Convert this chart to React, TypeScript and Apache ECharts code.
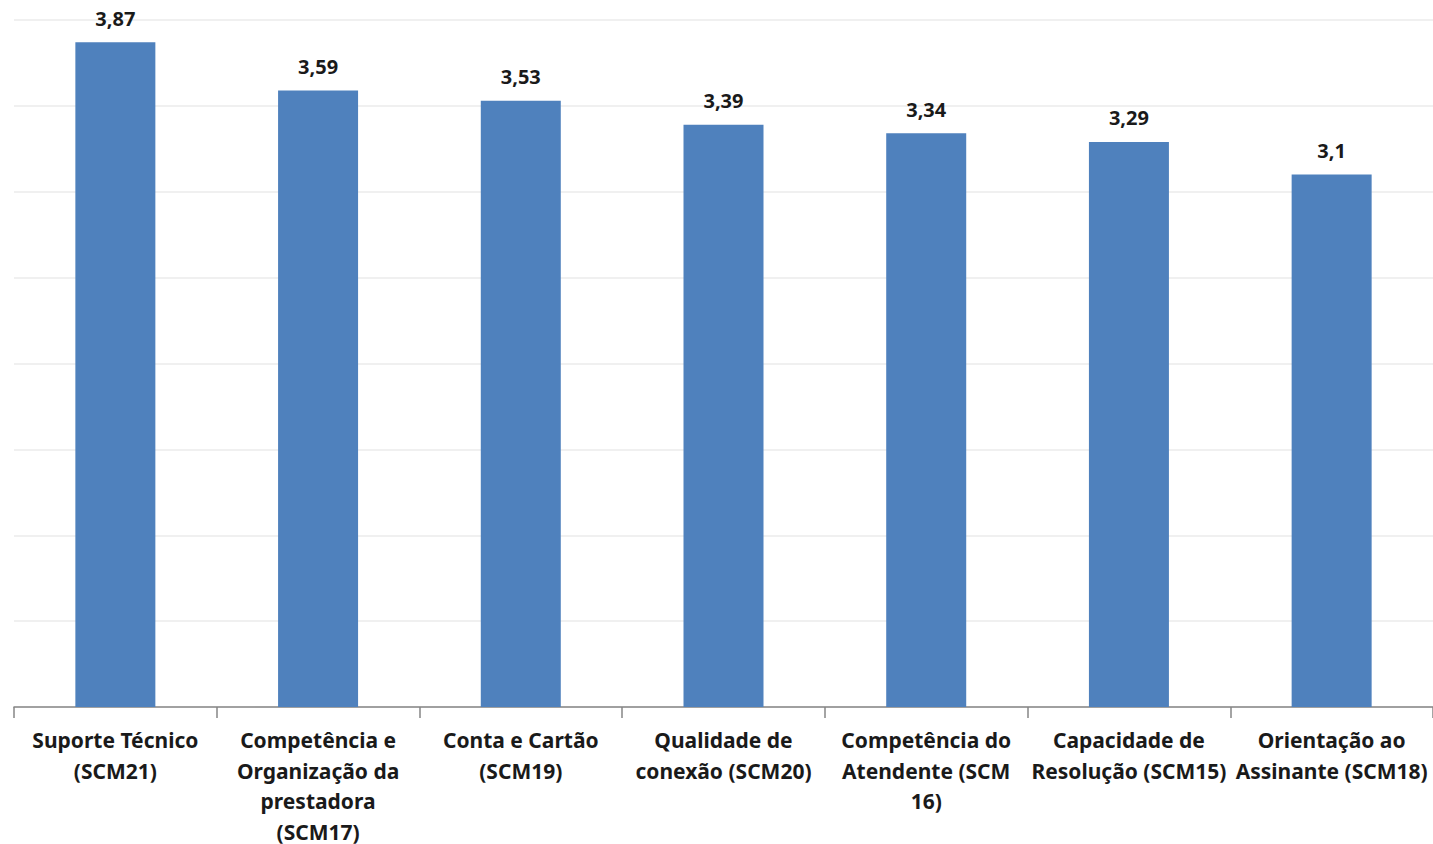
import React, { useEffect, useRef } from "react";
import * as echarts from "echarts";

const categories = [
  "Suporte Técnico\n(SCM21)",
  "Competência e\nOrganização da\nprestadora\n(SCM17)",
  "Conta e Cartão\n(SCM19)",
  "Qualidade de\nconexão (SCM20)",
  "Competência do\nAtendente (SCM\n16)",
  "Capacidade de\nResolução (SCM15)",
  "Orientação ao\nAssinante (SCM18)",
];
const values = [3.87, 3.59, 3.53, 3.39, 3.34, 3.29, 3.1];
const yMin = 0;
const yMax = 4;
const yInterval = 0.5;

const FONT = "'Noto Sans', 'Open Sans', sans-serif";

export default function App() {
  const ref = useRef<HTMLDivElement>(null);
  useEffect(() => {
    if (!ref.current) return;
    const chart = echarts.init(ref.current, undefined, { renderer: "svg" });
    chart.setOption({
      animation: false,
      grid: {
        left: 14,
        right: 0,
        top: 20,
        bottom: 137,
        containLabel: false,
        outerBoundsMode: "none",
      },
      xAxis: {
        type: "category",
        data: categories,
        axisLine: { lineStyle: { color: "#868686", width: 1.5 } },
        axisTick: { show: true, length: 11, lineStyle: { color: "#868686", width: 1.5 } },
        axisLabel: {
          interval: 0,
          margin: 18,
          color: "#1a1a1a",
          fontFamily: FONT,
          fontWeight: "bold",
          fontSize: 21,
          lineHeight: 30.5,
        },
      },
      yAxis: {
        type: "value",
        min: yMin,
        max: yMax,
        interval: yInterval,
        axisLabel: { show: false },
        axisLine: { show: false },
        axisTick: { show: false },
        splitLine: { lineStyle: { color: "#ebebeb", width: 1.5 } },
      },
      series: [
        {
          type: "bar",
          data: values,
          barWidth: 80,
          itemStyle: { color: "#4f81bd" },
          label: {
            show: true,
            position: "top",
            distance: 14,
            color: "#1a1a1a",
            fontFamily: FONT,
            fontWeight: "bold",
            fontSize: 20,
            formatter: (p: any) => String(p.value).replace(".", ","),
          },
        },
      ],
    });
    return () => chart.dispose();
  }, []);
  return (
    <div
      ref={ref}
      style={{ position: "fixed", left: 0, top: 0, width: 1433, height: 844, background: "#fff" }}
    />
  );
}
